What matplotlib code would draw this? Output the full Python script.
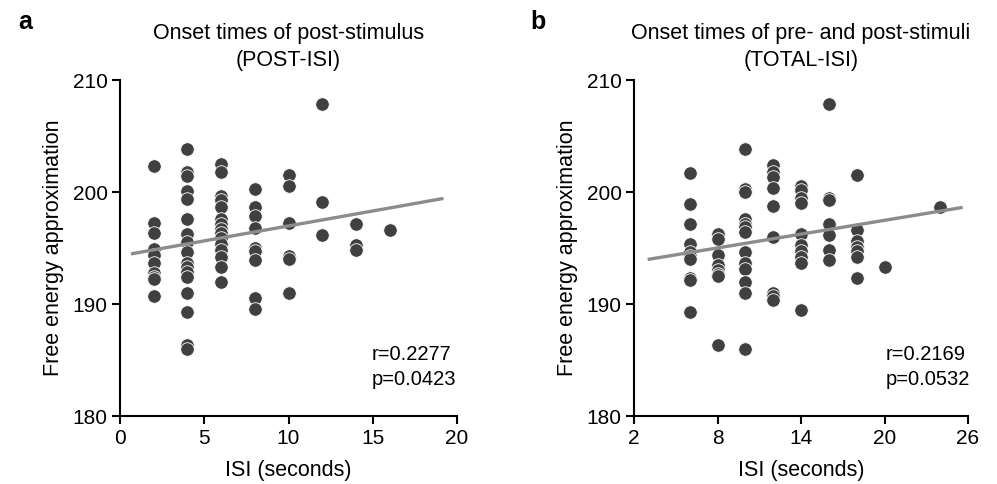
import matplotlib
matplotlib.use("Agg")
import matplotlib.pyplot as plt

plt.rcParams["font.family"] = ["Liberation Sans", "DejaVu Sans"]

# panel a: POST-ISI
post_isi = ([2] * 10 + [4] * 17 + [6] * 15 + [8] * 9 + [10] * 6 + [12] * 3 + [14] * 3 + [16])
post_fe = [202.3, 197.2, 196.3, 194.9, 194.4, 193.7, 192.8, 192.4, 192.2, 190.7,
           203.8, 201.8, 201.4, 200.1, 199.4, 197.6, 196.25, 195.5, 194.6, 193.7,
           193.3, 192.9, 192.4, 191.0, 189.25, 186.3, 186.0,
           202.5, 201.75, 199.6, 199.3, 198.7, 197.6, 197.1, 196.7, 196.3, 195.9,
           195.4, 194.8, 194.2, 193.3, 192.0,
           200.3, 198.7, 197.9, 196.8, 195.0, 194.7, 193.9, 190.5, 189.55,
           201.5, 200.5, 197.2, 194.3, 194.0, 190.95,
           207.9, 199.1, 196.2,
           197.1, 195.3, 194.8,
           196.6]
post_fit_x = [0.75, 19.1]
post_fit_y = [194.5, 199.4]

# panel b: TOTAL-ISI
total_isi = ([6] * 10 + [8] * 8 + [10] * 13 + [12] * 9 + [14] * 10 + [16] * 7
             + [18] * 7 + [20] + [24])
total_fe = [201.7, 198.9, 197.1, 195.4, 194.6, 194.3, 194.0, 192.35, 192.1, 189.25,
            196.25, 195.8, 194.4, 193.5, 193.0, 192.7, 192.5, 186.3,
            203.8, 200.3, 200.0, 197.6, 197.1, 196.9, 196.4, 194.6, 193.7, 193.1,
            192.0, 191.0, 186.0,
            202.4, 201.8, 201.3, 200.4, 198.75, 196.0, 190.95, 190.7, 190.4,
            200.5, 200.2, 199.5, 199.0, 196.25, 195.3, 194.7, 194.2, 193.7, 189.5,
            207.9, 199.5, 199.3, 197.1, 196.2, 194.8, 193.9,
            201.5, 196.6, 195.6, 195.1, 194.7, 194.2, 192.35,
            193.3,
            198.7]
total_fit_x = [3.1, 25.5]
total_fit_y = [194.0, 198.6]

panels = [
    dict(letter="a", title="Onset times of post-stimulus\n(POST-ISI)",
         x=post_isi, y=post_fe, fx=post_fit_x, fy=post_fit_y,
         xlim=(0, 20), xticks=[0, 5, 10, 15, 20], stats="r=0.2277\np=0.0423",
         rect=[120 / 997, 68 / 484, 337 / 997, 336 / 484], letter_x=18 / 997, tx=0.748),
    dict(letter="b", title="Onset times of pre- and post-stimuli\n(TOTAL-ISI)",
         x=total_isi, y=total_fe, fx=total_fit_x, fy=total_fit_y,
         xlim=(2, 26), xticks=[2, 8, 14, 20, 26], stats="r=0.2169\np=0.0532",
         rect=[634 / 997, 68 / 484, 334 / 997, 336 / 484], letter_x=530 / 997, tx=0.754),
]

fig = plt.figure(figsize=(9.97, 4.84), dpi=100)

for p in panels:
    ax = fig.add_axes(p["rect"])
    ax.scatter(p["x"], p["y"], s=95, color="#404040", edgecolors="white",
               linewidths=0.6, zorder=3, clip_on=False)
    ax.plot(p["fx"], p["fy"], color="#8c8c8c", linewidth=2.4, zorder=4)
    ax.set_xlim(*p["xlim"])
    ax.set_ylim(180, 210)
    ax.set_xticks(p["xticks"])
    ax.set_yticks([180, 190, 200, 210])
    for s in ["top", "right"]:
        ax.spines[s].set_visible(False)
    for s in ["left", "bottom"]:
        ax.spines[s].set_linewidth(1.5)
    ax.tick_params(direction="out", length=6, width=1.5, labelsize=15, pad=3)
    ax.set_xlabel("ISI (seconds)", fontsize=15.5, labelpad=9)
    ax.set_ylabel("Free energy approximation", fontsize=15.5, labelpad=6)
    ax.set_title(p["title"], fontsize=15.5, pad=10, linespacing=1.4)
    ax.text(p["tx"], 0.146, p["stats"], transform=ax.transAxes, fontsize=14.5,
            ha="left", va="center", linespacing=1.45)
    fig.text(p["letter_x"], 1 - 22 / 484, p["letter"], fontsize=18,
             fontweight="bold", ha="left", va="center")

fig.savefig("out.png", dpi=100)
